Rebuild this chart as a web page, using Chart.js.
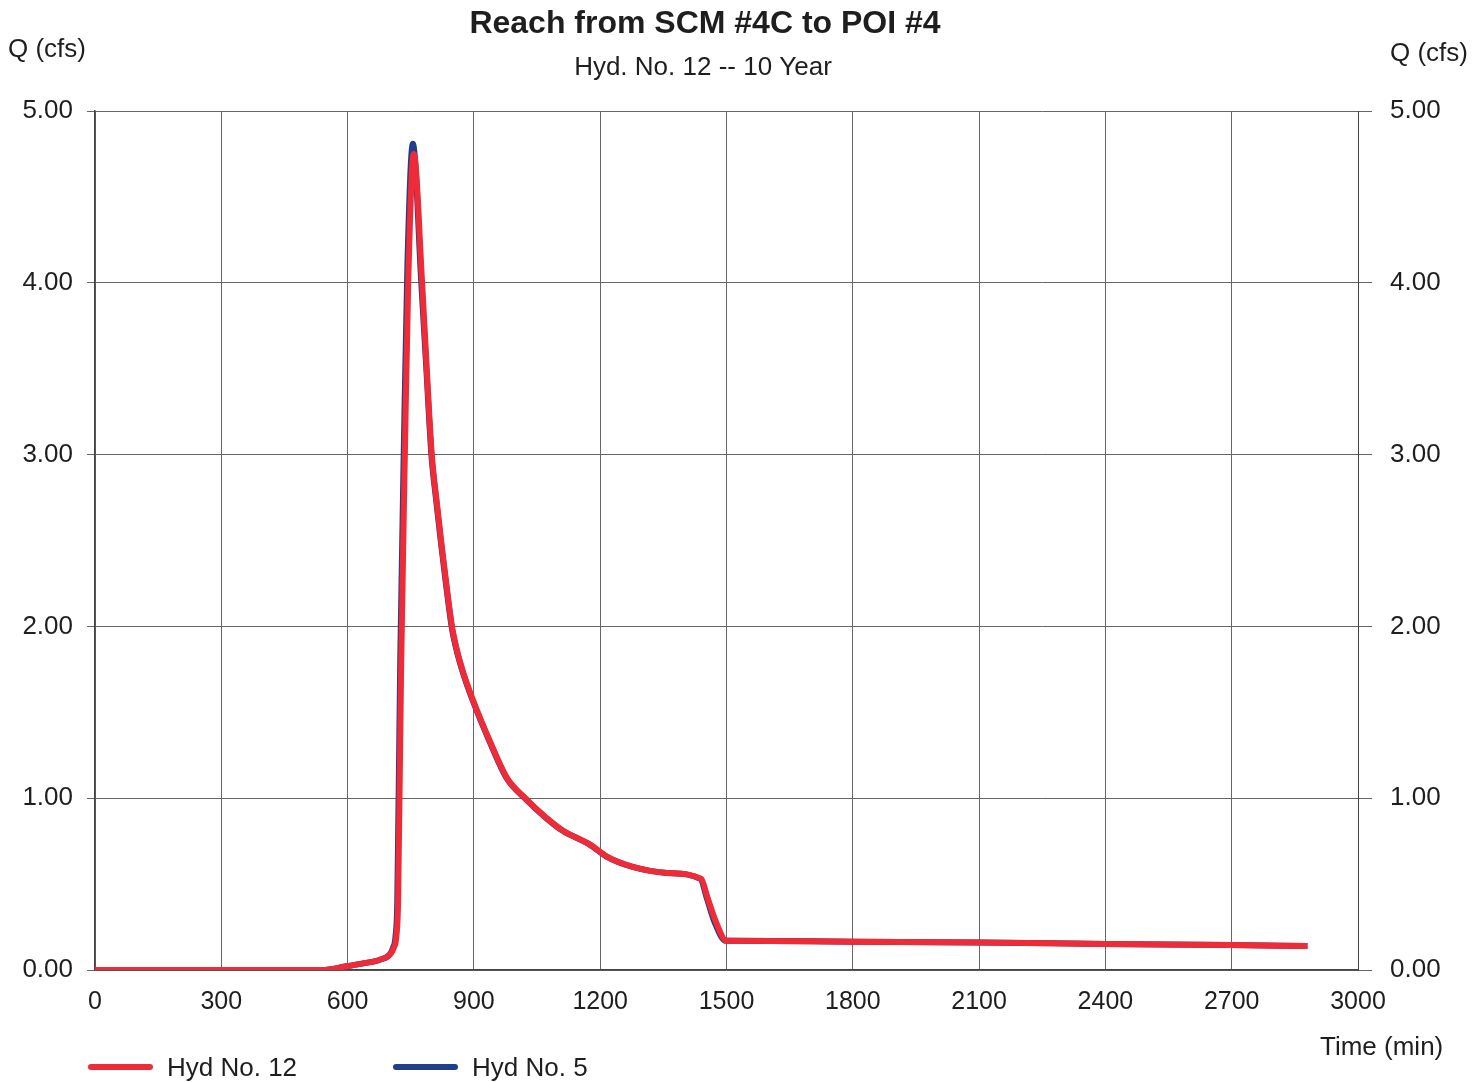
<!DOCTYPE html>
<html>
<head>
<meta charset="utf-8">
<script src="https://cdn.jsdelivr.net/npm/chart.js@4"></script>
<style>
  html, body { margin: 0; padding: 0; background: #fff; }
  #wrap { width: 1483px; height: 1082px; }
</style>
</head>
<body>
<div id="wrap"><canvas id="hydChart" width="1483" height="1082"></canvas></div>
<script>
// Hyd No. 12 (reach outflow) - time in min, flow in cfs
const hyd12Time = [0, 300, 540, 594, 640, 677, 700, 710, 716, 720, 727, 736, 744, 757, 777, 788, 800, 812, 824, 836, 848, 860, 875, 898, 940, 978, 1026, 1070, 1112, 1176, 1216, 1278, 1360, 1440, 1455, 1475, 1500, 1510, 1800, 2100, 2400, 2700, 2880];
const hyd12Flow = [0, 0, 0, 0.02, 0.04, 0.06, 0.09, 0.13, 0.2, 0.4, 1.74, 3.0, 4.0, 4.75, 4.0, 3.5, 3.0, 2.72, 2.46, 2.22, 2.0, 1.86, 1.73, 1.57, 1.32, 1.12, 0.99, 0.89, 0.81, 0.73, 0.66, 0.6, 0.565, 0.53, 0.42, 0.28, 0.17, 0.17, 0.165, 0.16, 0.152, 0.145, 0.14];

// Hyd No. 5 (inflow)
const hyd5Time = [0, 300, 540, 594, 640, 677, 700, 708, 714, 718, 725, 734, 742, 755, 775, 787, 799, 811, 823, 835, 847, 859, 874, 897, 939, 977, 1025, 1069, 1111, 1175, 1215, 1277, 1359, 1438, 1453, 1473, 1498, 1510, 1800, 2100, 2400, 2700, 2880];
const hyd5Flow = [0, 0, 0, 0.02, 0.04, 0.06, 0.09, 0.13, 0.2, 0.4, 1.8, 3.1, 4.1, 4.81, 4.0, 3.5, 3.0, 2.72, 2.46, 2.22, 2.0, 1.86, 1.73, 1.57, 1.32, 1.12, 0.99, 0.89, 0.81, 0.73, 0.66, 0.6, 0.565, 0.53, 0.42, 0.27, 0.17, 0.17, 0.165, 0.16, 0.152, 0.145, 0.14];

const xTicks = [0, 300, 600, 900, 1200, 1500, 1800, 2100, 2400, 2700, 3000];
const yTicks = [0, 1, 2, 3, 4, 5];

const FONT = '"Liberation Sans", Arial, sans-serif';
const TEXT = '#1e1e1e';
const GRID = '#666666';

function toPoints(times, flows) {
    return times.map((t, i) => ({ x: t, y: flows[i] }));
}

// titles, axis captions and legend
const captions = {
    id: 'captions',
    afterDraw(chart) {
        const ctx = chart.ctx;
        ctx.save();
        ctx.fillStyle = TEXT;
        ctx.textBaseline = 'middle';

        ctx.textAlign = 'center';
        ctx.font = 'bold 32px ' + FONT;
        ctx.fillText('Reach from SCM #4C to POI #4', 705, 24);
        ctx.font = '26px ' + FONT;
        ctx.fillText('Hyd. No. 12 -- 10 Year', 703, 68);

        ctx.textAlign = 'left';
        ctx.fillText('Q (cfs)', 8, 50);
        ctx.fillText('Q (cfs)', 1390, 54);
        ctx.fillText('Time (min)', 1320, 1048);

        // legend, in the order shown in the picture
        const items = [
            { ds: chart.data.datasets[1], x: 88 },
            { ds: chart.data.datasets[0], x: 393 }
        ];
        items.forEach(it => {
            ctx.strokeStyle = it.ds.borderColor;
            ctx.lineWidth = 6;
            ctx.lineCap = 'round';
            ctx.beginPath();
            ctx.moveTo(it.x + 3, 1067);
            ctx.lineTo(it.x + 62, 1067);
            ctx.stroke();
            ctx.fillStyle = TEXT;
            ctx.fillText(it.ds.label, it.x + 79, 1069);
        });
        ctx.restore();
    }
};

const yTickLabel = v => Number(v).toFixed(2);

new Chart(document.getElementById('hydChart').getContext('2d'), {
    type: 'line',
    data: {
        datasets: [
            {
                label: 'Hyd No. 5',
                data: toPoints(hyd5Time, hyd5Flow),
                borderColor: '#1f3f8c',
                backgroundColor: '#1f3f8c',
                borderWidth: 6,
                pointRadius: 0,
                cubicInterpolationMode: 'monotone',
                yAxisID: 'y',
                order: 2
            },
            {
                label: 'Hyd No. 12',
                data: toPoints(hyd12Time, hyd12Flow),
                borderColor: '#ee2b36',
                backgroundColor: '#ee2b36',
                borderWidth: 6,
                pointRadius: 0,
                cubicInterpolationMode: 'monotone',
                yAxisID: 'y',
                order: 1
            }
        ]
    },
    options: {
        responsive: false,
        animation: false,
        layout: { padding: { top: 111, left: 0, right: 0, bottom: 0 } },
        plugins: {
            legend: { display: false },
            title: { display: false },
            tooltip: { enabled: false }
        },
        scales: {
            x: {
                type: 'linear',
                min: 0,
                max: 3000,
                afterBuildTicks(scale) { scale.ticks = xTicks.map(v => ({ value: v })); },
                afterFit(scale) { scale.height = 112; },
                ticks: {
                    color: TEXT,
                    font: { family: FONT, size: 25 },
                    padding: 17,
                    maxRotation: 0,
                    autoSkip: false,
                    callback: v => String(v)
                },
                grid: { color: GRID, lineWidth: 1, drawTicks: false },
                border: { color: '#444', width: 1.5 }
            },
            y: {
                position: 'left',
                min: 0,
                max: 5,
                afterBuildTicks(scale) { scale.ticks = yTicks.map(v => ({ value: v })); },
                afterFit(scale) { scale.width = 95; },
                ticks: {
                    color: TEXT,
                    font: { family: FONT, size: 26 },
                    padding: 14,
                    callback: yTickLabel
                },
                grid: { color: GRID, lineWidth: 1, drawTicks: true, tickLength: 8 },
                border: { color: '#444', width: 1.5 }
            },
            y2: {
                position: 'right',
                min: 0,
                max: 5,
                afterBuildTicks(scale) { scale.ticks = yTicks.map(v => ({ value: v })); },
                afterFit(scale) { scale.width = 125; },
                ticks: {
                    color: TEXT,
                    font: { family: FONT, size: 26 },
                    padding: 18,
                    callback: yTickLabel
                },
                grid: { color: GRID, lineWidth: 1, drawOnChartArea: false, drawTicks: true, tickLength: 14 },
                border: { color: '#444', width: 1 }
            }
        }
    },
    plugins: [captions]
});
</script>
</body>
</html>
